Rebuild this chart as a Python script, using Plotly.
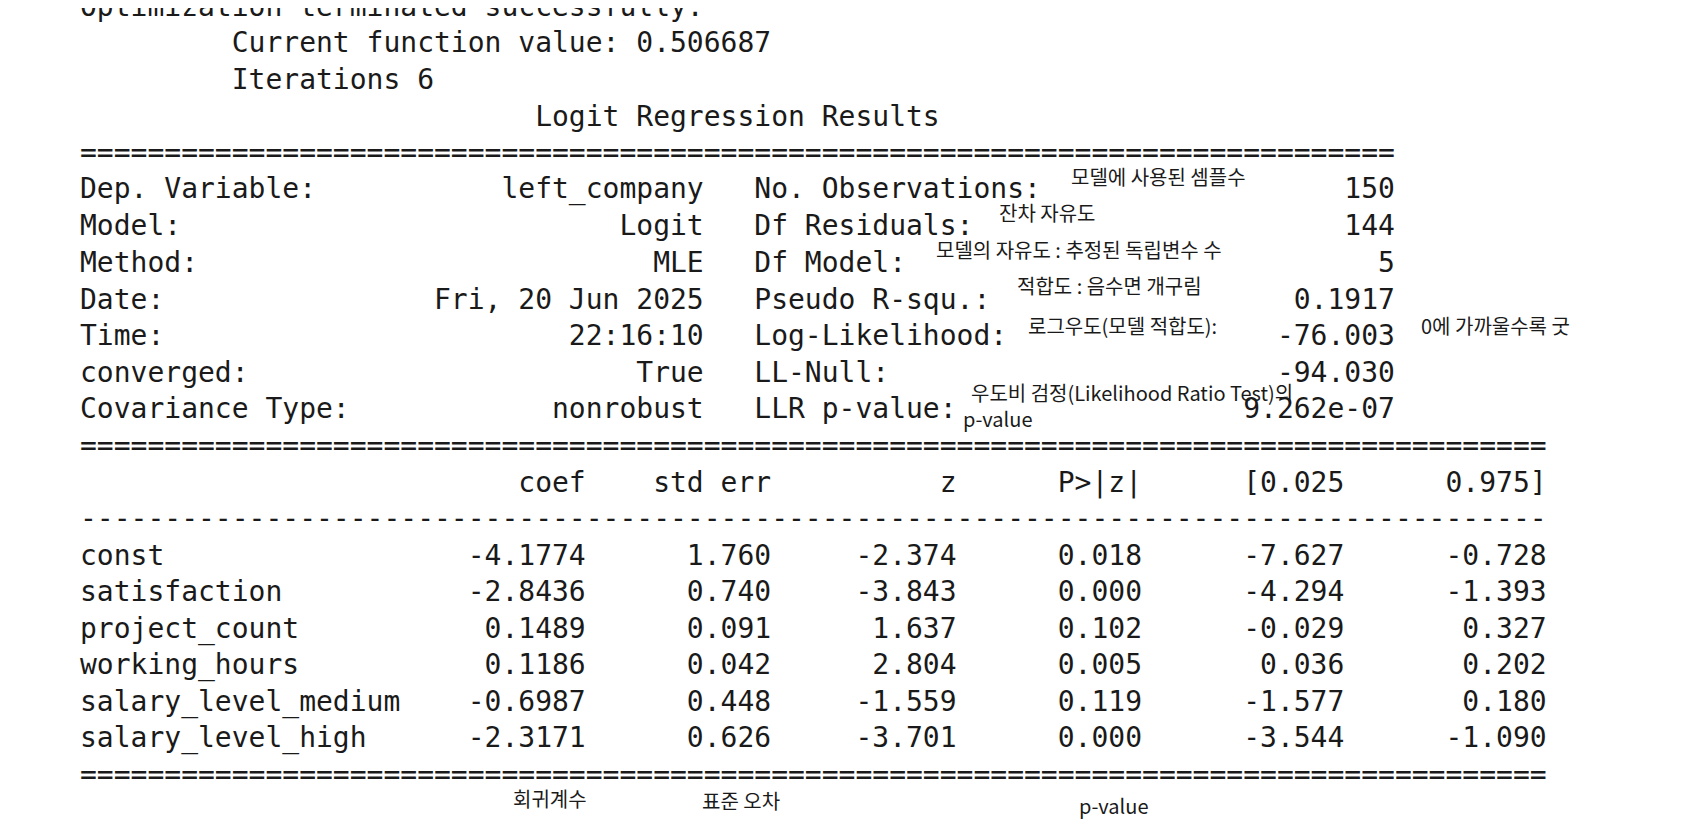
import plotly.graph_objects as go

optim_header = ["Optimization terminated successfully.",
                "         Current function value: 0.506687",
                "         Iterations 6"]
title = "Logit Regression Results"
left_labels = ["Dep. Variable:", "Model:", "Method:", "Date:", "Time:", "converged:", "Covariance Type:"]
left_values = ["left_company", "Logit", "MLE", "Fri, 20 Jun 2025", "22:16:10", "True", "nonrobust"]
right_labels = ["No. Observations:", "Df Residuals:", "Df Model:", "Pseudo R-squ.:", "Log-Likelihood:", "LL-Null:", "LLR p-value:"]
right_values = ["150", "144", "5", "0.1917", "-76.003", "-94.030", "9.262e-07"]
col_names = ["coef", "std err", "z", "P>|z|", "[0.025", "0.975]"]
variables = ["const", "satisfaction", "project_count", "working_hours", "salary_level_medium", "salary_level_high"]
coef = ["-4.1774", "-2.8436", "0.1489", "0.1186", "-0.6987", "-2.3171"]
std_err = ["1.760", "0.740", "0.091", "0.042", "0.448", "0.626"]
zval = ["-2.374", "-3.843", "1.637", "2.804", "-1.559", "-3.701"]
pval = ["0.018", "0.000", "0.102", "0.005", "0.119", "0.000"]
ci_low = ["-7.627", "-4.294", "-0.029", "0.036", "-1.577", "-3.544"]
ci_high = ["-0.728", "-1.393", "0.327", "0.202", "0.180", "-1.090"]

notes = [
    ("모델에 사용된 셈플수", 1072, 168),
    ("잔차 자유도", 1000, 204),
    ("모델의 자유도 : 추정된 독립변수 수", 937, 241),
    ("적합도 : 음수면 개구림", 1018, 277),
    ("로그우도(모델 적합도):", 1029, 317),
    ("0에 가까울수록 굿", 1422, 317),
    ("우도비 검정(Likelihood Ratio Test)의", 972, 384),
    ("p-value", 964, 410),
    ("회귀계수", 514, 790),
    ("표준 오차", 703, 792),
    ("p-value", 1080, 797),
]

lines = list(optim_header)
lines.append(title.center(78).rstrip())
lines.append("=" * 78)
for a, b, c, d in zip(left_labels, left_values, right_labels, right_values):
    lines.append(a + b.rjust(37 - len(a)) + "   " + c + d.rjust(38 - len(c)))
lines.append("=" * 87)
widths = [10, 11, 11, 11, 12, 12]
lines.append(" " * 20 + "".join(n.rjust(w) for n, w in zip(col_names, widths)))
lines.append("-" * 87)
for row in zip(variables, coef, std_err, zval, pval, ci_low, ci_high):
    lines.append(row[0].ljust(20) + "".join(v.rjust(w) for v, w in zip(row[1:], widths)))
lines.append("=" * 87)

fig = go.Figure()
x0, y0, dy = 70, -1.7, 36.6
for i, ln in enumerate(lines):
    y = y0 + i * dy
    shift = 0
    if y < 0:
        shift, y = -y, 0
    fig.add_annotation(x=x0, y=y, yshift=shift, text=ln.replace(" ", "\u00a0"), showarrow=False,
                       xanchor="left", yanchor="middle", xref="x", yref="y",
                       font=dict(family="DejaVu Sans Mono", size=28, color="#1a1a1a"))
for t, x, y in notes:
    fig.add_annotation(x=x - 11, y=y, text=t, showarrow=False, xanchor="left", yanchor="middle",
                       xref="x", yref="y",
                       font=dict(family="Noto Sans CJK KR", size=20, color="#1a1a1a"))

fig.update_layout(width=1682, height=827, margin=dict(l=0, r=0, t=0, b=0),
                  paper_bgcolor="white", plot_bgcolor="white", showlegend=False,
                  xaxis=dict(range=[0, 1682], visible=False, fixedrange=True),
                  yaxis=dict(range=[827, 0], visible=False, fixedrange=True))
fig.write_html("out.html")
